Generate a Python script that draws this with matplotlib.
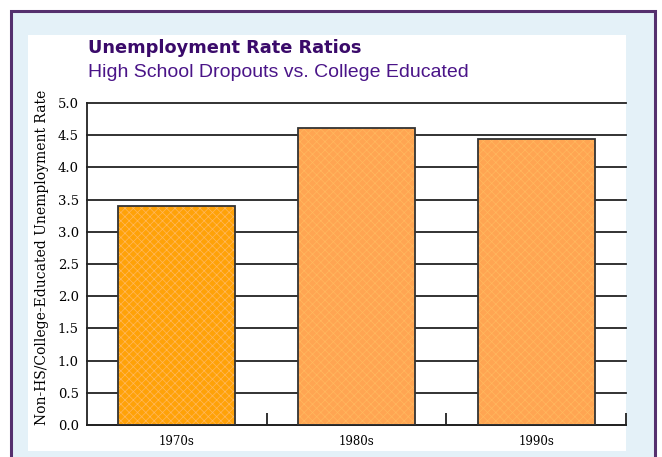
import matplotlib
matplotlib.use("Agg")
import matplotlib.pyplot as plt
from matplotlib.patches import Rectangle

# unemployment rate ratio, non-HS vs college educated, by decade
decades = ["1970s", "1980s", "1990s"]
ratios = [3.40, 4.61, 4.44]
bar_colors = ["#FFA208", "#FFA552", "#FFA552"]
y_ticks = [0.0, 0.5, 1.0, 1.5, 2.0, 2.5, 3.0, 3.5, 4.0, 4.5, 5.0]

W, H = 662, 457
fig = plt.figure(figsize=(W / 100, H / 100), dpi=100)
fig.patch.set_facecolor("white")

# framed light blue panel with a white card inside
fig.patches.append(Rectangle((11 / W, -0.05), 644 / W, 1.05 - 11 / H, transform=fig.transFigure,
                             facecolor="#E4F1F8", edgecolor="#55306E", linewidth=2.2,
                             zorder=0))
fig.patches.append(Rectangle((28 / W, 1 - 451 / H), 598 / W, 416 / H, transform=fig.transFigure,
                             facecolor="white", edgecolor="none", zorder=0))

ax = fig.add_axes([87 / W, 1 - 425 / H, 539 / W, 322 / H])
ax.set_zorder(2)
ax.set_facecolor("none")

x = range(len(decades))
for y in y_ticks:
    ax.axhline(y, color="#222222", linewidth=1.3, zorder=1, clip_on=False)

# fine dotted texture on the bars, then the dark outlines on top
plt.rcParams["hatch.linewidth"] = 0.5
ax.bar(x, ratios, width=0.65, color=bar_colors, edgecolor="#FFB85E", hatch="xxxx",
       linewidth=0, zorder=2)
ax.bar(x, ratios, width=0.65, color="none", edgecolor="#333333", linewidth=1.3, zorder=3)

ax.set_xlim(-0.5, 2.5)
ax.set_ylim(0, 5.0)
for side in ["top", "right"]:
    ax.spines[side].set_visible(False)
for side in ["left", "bottom"]:
    ax.spines[side].set_linewidth(1.3)
    ax.spines[side].set_color("#222222")

ax.set_yticks(y_ticks)
ax.set_yticklabels([f"{v:.1f}" for v in y_ticks], family="DejaVu Serif", fontsize=9.5)
ax.tick_params(axis="y", length=0, pad=6)
ax.set_xticks(list(x))
ax.set_xticklabels(decades, family="DejaVu Serif", fontsize=8.5)
ax.tick_params(axis="x", which="major", length=0, pad=7)
ax.set_xticks([0.5, 1.5, 2.5], minor=True)
ax.tick_params(axis="x", which="minor", direction="in", length=9, width=1.3, color="#222222")

fig.text(42 / W, 1 - 257 / H, "Non-HS/College-Educated Unemployment Rate", rotation=90,
         ha="center", va="center", family="DejaVu Serif", fontsize=10)

fig.text(88 / W, 1 - 53 / H, "Unemployment Rate Ratios", ha="left", va="baseline",
         family="DejaVu Sans", fontweight="heavy", fontsize=12.8, color="#3A0A6A")
fig.text(88 / W, 1 - 77 / H, "High School Dropouts vs. College Educated", ha="left",
         va="baseline", family="Liberation Sans", fontsize=14, color="#4A1488")

fig.savefig("out.png", dpi=100)
